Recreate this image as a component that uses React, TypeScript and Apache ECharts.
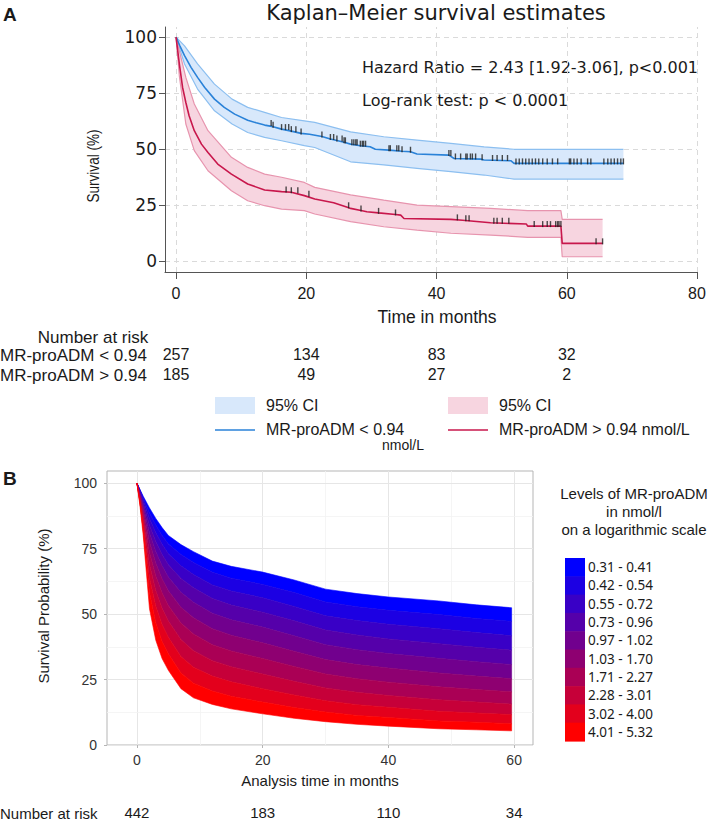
import React, { useEffect, useRef } from "react";
import * as echarts from "echarts";

// ---------------- Panel A : Kaplan–Meier ----------------
const blueTime = [0, 0.6, 1.3, 2.3, 3.3, 4.4, 5.9, 7.4, 9, 11, 12.3, 13.6, 14.9, 16.2, 17.7, 19.2, 20.5, 22.4, 23.7, 24.7, 25.8, 26.8, 28.3, 29.8, 30.6, 32.7, 34.7, 36, 37, 41.9, 42.7, 46.8, 47.3, 51.4, 51.9, 68.7];
const blueSurv = [100, 96, 91.7, 86.5, 82, 77.5, 72.3, 68.6, 65.6, 62.9, 61.7, 60.7, 60, 58.9, 58, 57, 56.6, 55.6, 54.5, 53.8, 53, 52.2, 51.5, 51, 49.9, 49.5, 49, 48.8, 47.8, 47.3, 45.8, 45.5, 45.1, 44.8, 43.6, 43.6];
const blueCiTime = [0, 1.3, 3.3, 5.9, 8.6, 11, 13.6, 16.2, 19.7, 21.3, 26.8, 31.9, 37, 42.2, 47.3, 51.9, 68.7];
const blueUpper = [100, 96.1, 88, 79, 72.3, 68.6, 66.4, 64.1, 62.6, 61.9, 57.7, 55.5, 54, 52.5, 51, 49.9, 49.9];
const blueLower = [100, 88, 76.8, 67.1, 61.2, 57.4, 55.2, 53.7, 51.5, 50.7, 44.3, 42.9, 41.4, 39.9, 38.4, 36.6, 36.6];
const blueCensor = [14.6, 14.9, 16.2, 16.8, 17.3, 17.7, 18.4, 19.2, 22.4, 23.7, 24.2, 24.7, 25.5, 25.8, 26, 27, 27.3, 27.6, 27.8, 28.3, 28.6, 28.8, 29.1, 32.7, 32.9, 33.9, 34.2, 34.7, 36, 41.9, 42.2, 42.9, 43.7, 44.5, 44.7, 45.2, 45.5, 46, 47, 48.6, 49.3, 50.1, 50.9, 52.2, 52.7, 53.2, 53.7, 54.2, 54.7, 55.2, 55.7, 56.3, 57, 57.8, 58.6, 60.4, 60.6, 61.1, 61.6, 62.2, 63.2, 63.7, 65.7, 66.3, 66.8, 67.3, 67.8, 68.3, 68.7];

const redTime = [0, 0.5, 1, 1.5, 2, 2.8, 3.9, 4.9, 6.4, 8.5, 11, 13.6, 16.2, 17.7, 19.7, 21.3, 24.2, 26.3, 26.8, 28.4, 29.3, 31.1, 33.7, 34.5, 35, 42.2, 44, 48.3, 53.8, 54, 59.1, 59.3, 65.5];
const redSurv = [100, 88, 77.5, 70.8, 64.9, 58.2, 52.2, 48.5, 43.3, 38.8, 34.4, 31.7, 31, 30.7, 29.2, 27.7, 26, 24, 23.5, 22.6, 22, 21.5, 20.8, 20.5, 19, 18.6, 18.2, 17.1, 16.5, 15.6, 15.6, 7.9, 7.9];
const redCiTime = [0, 0.5, 1.5, 2.8, 4.9, 8.5, 11, 13.6, 16.2, 19.7, 21.3, 26.8, 31.9, 37, 42.2, 48.3, 54, 59.1, 59.3, 65.5];
const redUpper = [100, 93.9, 82, 70.1, 58.2, 46.3, 41.8, 38.8, 37.4, 35.1, 32.9, 29.5, 27.2, 25, 24.3, 23.5, 22.5, 22.5, 18.6, 18.6];
const redLower = [100, 82.7, 61.2, 49.3, 40.3, 31.4, 26.9, 24.7, 23.2, 22.5, 21, 17.6, 15.3, 13.8, 12.4, 11.6, 10.6, 10.6, 1.9, 1.9];
const redCensor = [16.9, 17.7, 18.7, 20.4, 26.5, 28.4, 31.1, 33.7, 43.2, 44.5, 45, 48.8, 49.3, 50.1, 51.1, 55, 56.3, 57, 57.5, 58.3, 58.6, 58.8, 59.1, 64.5, 65.5];

const xTicksA = [0, 20, 40, 60, 80];
const yTicksA = [0, 25, 50, 75, 100];

const riskRowLabels = ["MR-proADM < 0.94", "MR-proADM > 0.94"];
const riskTimesA = [0, 20, 40, 60];
const riskLow = [257, 134, 83, 32];
const riskHigh = [185, 49, 27, 2];

// ---------------- Panel B : fan of survival curves ----------------
const bTime = [0, 0.5, 1, 2, 3, 4, 5, 7, 9, 12, 15, 20, 25, 30, 35, 40, 48, 54, 59.6];
const bCurve0 = [100, 97.5, 95, 90.5, 86.5, 83.0, 80.0, 76.5, 73.8, 70.2, 68.2, 66.0, 63.0, 59.5, 57.8, 56.5, 55.0, 53.5, 52.4];
const bCurve1 = [100, 97.2, 94.2, 88.7, 84.0, 80.0, 76.7, 72.7, 69.7, 65.9, 63.7, 61.3, 58.2, 54.6, 52.8, 51.4, 49.8, 48.3, 47.2];
const bCurve2 = [100, 96.8, 93.4, 86.5, 81.1, 76.6, 73.0, 68.4, 65.1, 61.1, 58.8, 56.2, 52.9, 49.3, 47.5, 46.1, 44.4, 42.9, 41.7];
const bCurve3 = [100, 96.3, 92.3, 83.9, 77.7, 72.7, 68.8, 63.6, 60.0, 55.9, 53.4, 50.7, 47.4, 43.9, 42.0, 40.5, 38.7, 37.3, 36.2];
const bCurve4 = [100, 95.8, 91.2, 80.9, 73.9, 68.4, 64.1, 58.3, 54.5, 50.3, 47.8, 45.0, 41.7, 38.3, 36.4, 34.9, 33.1, 31.8, 30.7];
const bCurve5 = [100, 95.2, 89.9, 77.5, 69.5, 63.5, 58.9, 52.6, 48.6, 44.4, 41.9, 39.0, 35.8, 32.6, 30.7, 29.4, 27.5, 26.3, 25.3];
const bCurve6 = [100, 94.6, 88.3, 73.5, 64.5, 58.1, 53.3, 46.6, 42.4, 38.3, 35.9, 33.0, 30.0, 27.1, 25.3, 24.0, 22.2, 21.2, 20.3];
const bCurve7 = [100, 93.9, 86.6, 68.9, 59.0, 52.2, 47.3, 40.3, 36.0, 32.2, 29.9, 27.1, 24.3, 21.8, 20.1, 18.9, 17.3, 16.4, 15.6];
const bCurve8 = [100, 93.0, 84.7, 63.8, 53.1, 46.0, 41.1, 33.8, 29.7, 26.3, 24.1, 21.5, 19.1, 16.9, 15.4, 14.4, 12.9, 12.2, 11.6];
const bCurve9 = [100, 92.1, 82.5, 58.2, 46.7, 39.5, 34.8, 27.5, 23.6, 20.6, 18.6, 16.4, 14.3, 12.6, 11.3, 10.5, 9.2, 8.7, 8.1];
const bCurve10 = [100, 91.0, 80.0, 52.0, 40.0, 33.0, 28.5, 21.5, 18.0, 15.5, 13.8, 11.9, 10.2, 8.9, 7.9, 7.2, 6.2, 5.8, 5.4];
const bCurves = [bCurve0, bCurve1, bCurve2, bCurve3, bCurve4, bCurve5, bCurve6, bCurve7, bCurve8, bCurve9, bCurve10];

const levelLabels = ["0.31 - 0.41", "0.42 - 0.54", "0.55 - 0.72", "0.73 - 0.96", "0.97 - 1.02", "1.03 - 1.70", "1.71 - 2.27", "2.28 - 3.01", "3.02 - 4.00", "4.01 - 5.32"];
const levelColors = ["#0000ff", "#1c00e3", "#3900c6", "#5500aa", "#71008e", "#8e0071", "#aa0055", "#c60039", "#e3001c", "#ff0000"];
const xTicksB = [0, 20, 40, 60];
const yTicksB = [0, 25, 50, 75, 100];
const xGridB = [0, 10, 20, 30, 40, 50, 60];
const yGridMajorB = [0, 25, 50, 75, 100];
const yGridMinorB = [12.5, 37.5, 62.5, 87.5];
const riskAll = [442, 183, 110, 34];

// ---------------- styling ----------------
const ARIAL = '"Liberation Sans", Arial, sans-serif';
const WIDE = '"DejaVu Sans", Verdana, sans-serif';
const NOTO = '"Noto Sans", "Open Sans", sans-serif';
const TXT = "#1a1a1a";

const BLUE = "#2a82d8";
const BLUE_FILL = "#d8e8fb";
const BLUE_EDGE = "#8cbff0";
const RED = "#c8174c";
const RED_FILL = "#f7d5e0";
const RED_EDGE = "#e794ae";

function lookup(ts: number[], vs: number[], t: number) {
  let v = vs[0];
  for (let i = 0; i < ts.length; i++) if (ts[i] <= t) v = vs[i];
  return v;
}

function text(x: number, y: number, s: string, font: any, extra: any = {}) {
  const el: any = {
    type: "text",
    x,
    y,
    silent: true,
    style: {
      text: s,
      fill: TXT,
      fontSize: font.size,
      fontFamily: font.family,
      fontWeight: font.weight || "normal",
      align: extra.align || "left",
      textAlign: extra.align || "left",
      verticalAlign: "middle",
      textVerticalAlign: "middle",
    },
  };
  if (extra.rotation !== undefined) el.rotation = extra.rotation;
  if (extra.scaleX !== undefined) {
    el.scaleX = extra.scaleX;
    el.scaleY = 1;
  }
  return el;
}

export default function App() {
  const ref = useRef<HTMLDivElement>(null);

  useEffect(() => {
    const chart = echarts.init(ref.current!, undefined, { renderer: "svg", width: 709, height: 820 });

    const bandSeries = (xi: number, yi: number, ts: number[], up: number[], lo: number[], fill: string) => ({
      type: "custom",
      xAxisIndex: xi,
      yAxisIndex: yi,
      silent: true,
      z: 1,
      data: [[ts[0], up[0]]],
      renderItem: (_p: any, api: any) => {
        const pts: number[][] = [];
        for (let i = 0; i < ts.length; i++) pts.push(api.coord([ts[i], up[i]]));
        for (let i = ts.length - 1; i >= 0; i--) pts.push(api.coord([ts[i], lo[i]]));
        return { type: "polygon", shape: { points: pts }, style: { fill, stroke: "none" } };
      },
    });

    const lineSeries = (ts: number[], vs: number[], color: string, width: number, z: number) => ({
      type: "line",
      xAxisIndex: 0,
      yAxisIndex: 0,
      data: ts.map((t, i) => [t, vs[i]]),
      symbol: "none",
      silent: true,
      lineStyle: { color, width },
      z,
    });

    const censorSeries = (cs: number[], ts: number[], vs: number[]) => ({
      type: "scatter",
      xAxisIndex: 0,
      yAxisIndex: 0,
      silent: true,
      data: cs.map((t) => [t, lookup(ts, vs, t)]),
      symbol: "rect",
      symbolSize: [1.4, 6],
      symbolOffset: [0, -2],
      itemStyle: { color: "#202020" },
      z: 5,
    });

    // extra x axes that only carry "number at risk" labels
    const riskAxis = (grid: number, min: number, max: number, offset: number, ticks: number[], counts: number[], size: number) => ({
      gridIndex: grid, type: "value", min, max, position: "bottom", offset,
      axisLine: { show: false, onZero: false },
      axisTick: { show: false, customValues: ticks },
      axisLabel: {
        customValues: ticks, margin: 8, fontSize: size, fontFamily: ARIAL, color: TXT,
        formatter: (v: number) => String(counts[ticks.indexOf(v)]),
      },
      splitLine: { show: false },
    });

    const N = { size: 17, family: ARIAL };
    const graphics: any[] = [];
    // Panel labels and title
    graphics.push(text(3, 14, "A", { size: 19, family: ARIAL, weight: "bold" }));
    graphics.push(text(3, 478, "B", { size: 19, family: ARIAL, weight: "bold" }));
    graphics.push(text(436, 13, "Kaplan–Meier survival estimates", { size: 21, family: WIDE }, { align: "center" }));
    graphics.push(text(362, 67, "Hazard Ratio = 2.43 [1.92-3.06], p<0.001", { size: 16, family: WIDE }));
    graphics.push(text(362, 100, "Log-rank test: p < 0.0001", { size: 16, family: WIDE }));
    graphics.push(text(93, 166, "Survival (%)", { size: 17, family: ARIAL }, { align: "center", rotation: Math.PI / 2, scaleX: 0.8 }));
    graphics.push(text(437, 317, "Time in months", { size: 17.5, family: ARIAL }, { align: "center" }));
    // Number at risk table A (row labels)
    graphics.push(text(93, 337, "Number at risk", N, { align: "center" }));
    riskRowLabels.forEach((lab, r) => graphics.push(text(0, 355 + r * 20, lab, N)));
    // Legend A
    graphics.push({ type: "rect", silent: true, shape: { x: 215, y: 397, width: 40, height: 17 }, style: { fill: BLUE_FILL } });
    graphics.push({ type: "rect", silent: true, shape: { x: 448, y: 397, width: 40, height: 17 }, style: { fill: RED_FILL } });
    graphics.push({ type: "line", silent: true, shape: { x1: 215, y1: 430, x2: 255, y2: 430 }, style: { stroke: BLUE, lineWidth: 1.5 } });
    graphics.push({ type: "line", silent: true, shape: { x1: 448, y1: 430, x2: 488, y2: 430 }, style: { stroke: RED, lineWidth: 1.5 } });
    graphics.push(text(266, 405, "95% CI", { size: 16, family: ARIAL }));
    graphics.push(text(499, 405, "95% CI", { size: 16, family: ARIAL }));
    graphics.push(text(266, 429, "MR-proADM < 0.94", { size: 16, family: ARIAL }));
    graphics.push(text(382, 445, "nmol/L", { size: 14, family: ARIAL }));
    graphics.push(text(499, 429, "MR-proADM > 0.94 nmol/L", { size: 16, family: ARIAL }));
    // Panel B texts
    graphics.push(text(43, 606, "Survival Probability (%)", { size: 15, family: ARIAL }, { align: "center", rotation: Math.PI / 2 }));
    graphics.push(text(320, 780, "Analysis time in months", { size: 15, family: ARIAL }, { align: "center" }));
    graphics.push(text(0, 813, "Number at risk", { size: 15, family: ARIAL }));
    graphics.push(text(634, 493, "Levels of MR-proADM", { size: 15, family: ARIAL }, { align: "center" }));
    graphics.push(text(634, 511, "in nmol/l", { size: 15, family: ARIAL }, { align: "center" }));
    graphics.push(text(634, 529, "on a logarithmic scale", { size: 15, family: ARIAL }, { align: "center" }));
    const barTop = 558;
    const bandH = 18.3;
    levelColors.forEach((c, i) => {
      graphics.push({ type: "rect", silent: true, shape: { x: 565, y: barTop + i * bandH, width: 20, height: bandH + 0.6 }, style: { fill: c } });
      graphics.push(text(588, barTop + (i + 0.5) * bandH, levelLabels[i], { size: 13.5, family: NOTO }));
    });

    const option: any = {
      animation: false,
      backgroundColor: "#ffffff",
      grid: [
        { left: 165, top: 27, width: 532, height: 245, containLabel: false },
        { left: 107, top: 471, width: 426, height: 275, containLabel: false, show: true, borderColor: "#b5b5b5", borderWidth: 1, backgroundColor: "#ffffff" },
      ],
      xAxis: [
        {
          gridIndex: 0, type: "value", min: -1.7, max: 80,
          axisLine: { show: true, onZero: false, lineStyle: { color: "#555", width: 1 } },
          axisTick: { show: true, length: 7, customValues: xTicksA, lineStyle: { color: "#555" } },
          axisLabel: { customValues: xTicksA, margin: 13, fontSize: 16, fontFamily: ARIAL, color: TXT },
          splitLine: { show: false },
        },
        {
          gridIndex: 1, type: "value", min: -4.76, max: 63,
          axisLine: { show: false, onZero: false },
          axisTick: { show: true, length: 3, customValues: xTicksB, lineStyle: { color: "#b5b5b5" } },
          axisLabel: { customValues: xTicksB, margin: 8, fontSize: 14, fontFamily: ARIAL, color: "#333" },
          splitLine: { show: false },
        },
        riskAxis(1, -4.76, 63, 52, xTicksB, riskAll, 15),
        riskAxis(0, -1.7, 80, 66, riskTimesA, riskLow, 16),
        riskAxis(0, -1.7, 80, 86, riskTimesA, riskHigh, 16),
      ],
      yAxis: [
        {
          gridIndex: 0, type: "value", min: -4.9, max: 104.5,
          axisLine: { show: true, onZero: false, lineStyle: { color: "#555", width: 1 } },
          axisTick: { show: true, length: 6, customValues: yTicksA, lineStyle: { color: "#555" } },
          axisLabel: { customValues: yTicksA, margin: 8, fontSize: 17, fontFamily: WIDE, color: TXT },
          splitLine: { show: false },
        },
        {
          gridIndex: 1, type: "value", min: 0, max: 104.6,
          axisLine: { show: false, onZero: false },
          axisTick: { show: true, length: 3, customValues: yTicksB, lineStyle: { color: "#b5b5b5" } },
          axisLabel: { customValues: yTicksB, margin: 10, fontSize: 14, fontFamily: ARIAL, color: "#333" },
          splitLine: { show: false },
        },
      ],
      series: [
        {
          type: "line", xAxisIndex: 0, yAxisIndex: 0, data: [], silent: true, z: 0,
          markLine: {
            silent: true, symbol: ["none", "none"], label: { show: false }, z: 0, animation: false,
            lineStyle: { type: [5, 4], color: "#dadada", width: 1 },
            data: [...xTicksA.map((v) => ({ xAxis: v })), ...yTicksA.map((v) => ({ yAxis: v }))],
          },
        },
        bandSeries(0, 0, blueCiTime, blueUpper, blueLower, BLUE_FILL),
        bandSeries(0, 0, redCiTime, redUpper, redLower, RED_FILL),
        lineSeries(blueCiTime, blueUpper, BLUE_EDGE, 1.2, 2),
        lineSeries(blueCiTime, blueLower, BLUE_EDGE, 1.2, 2),
        lineSeries(redCiTime, redUpper, RED_EDGE, 1.2, 2),
        lineSeries(redCiTime, redLower, RED_EDGE, 1.2, 2),
        lineSeries(blueTime, blueSurv, BLUE, 1.6, 3),
        lineSeries(redTime, redSurv, RED, 1.6, 3),
        censorSeries(blueCensor, blueTime, blueSurv),
        censorSeries(redCensor, redTime, redSurv),
        {
          type: "line", xAxisIndex: 1, yAxisIndex: 1, data: [], silent: true, z: 0,
          markLine: {
            silent: true, symbol: ["none", "none"], label: { show: false }, z: 0, animation: false,
            lineStyle: { type: "solid", color: "#ebebeb", width: 1 },
            data: [
              ...xGridB.map((v) => ({ xAxis: v, lineStyle: { color: v % 20 === 0 ? "#e6e6e6" : "#f3f3f3", width: v % 20 === 0 ? 1 : 0.8 } })),
              ...yGridMajorB.map((v) => ({ yAxis: v, lineStyle: { color: "#e6e6e6", width: 1 } })),
              ...yGridMinorB.map((v) => ({ yAxis: v, lineStyle: { color: "#f3f3f3", width: 0.8 } })),
            ],
          },
        },
        {
          type: "custom", xAxisIndex: 1, yAxisIndex: 1, silent: true, z: 2,
          data: levelColors.map((_c, i) => [i, 50]),
          renderItem: (_p: any, api: any) => {
            const k = api.value(0) as number;
            const up = bCurves[k];
            const lo = bCurves[k + 1];
            const pts: number[][] = [];
            for (let i = 0; i < bTime.length; i++) pts.push(api.coord([bTime[i], up[i]]));
            for (let i = bTime.length - 1; i >= 0; i--) pts.push(api.coord([bTime[i], lo[i]]));
            return { type: "polygon", shape: { points: pts }, style: { fill: levelColors[k], stroke: levelColors[k], lineWidth: 0.6 } };
          },
        },
      ],
      graphic: graphics,
    };

    chart.setOption(option);
    return () => chart.dispose();
  }, []);

  return (
    <div
      ref={ref}
      style={{ position: "absolute", left: 0, top: 0, width: 709, height: 820, background: "#fff" }}
    />
  );
}
